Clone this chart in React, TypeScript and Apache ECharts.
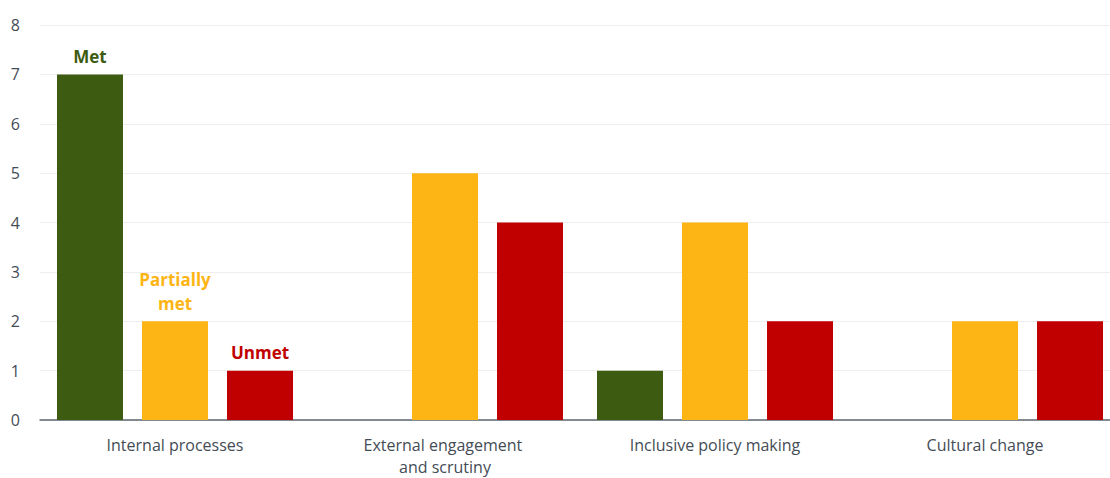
import React, { useEffect, useRef } from "react";
import * as echarts from "echarts";

const categories = ["Internal processes", "External engagement and scrutiny", "Inclusive policy making", "Cultural change"];
const seriesNames = ["Met", "Partially\nmet", "Unmet"];
const metValues = [7, null, 1, null];
const partialValues = [2, 5, 4, 2];
const unmetValues = [1, 4, 2, 2];
const colors = ["#3d5c11", "#fdb515", "#c00000"];
const yTicks = [0, 1, 2, 3, 4, 5, 6, 7, 8];

export default function App() {
  const ref = useRef<HTMLDivElement>(null);
  useEffect(() => {
    if (!ref.current) return;
    const chart = echarts.init(ref.current, undefined, { renderer: "svg" });
    const font = "'Open Sans', sans-serif";
    const all = [metValues, partialValues, unmetValues];
    const series = all.map((vals, si) => ({
      type: "bar",
      name: seriesNames[si].replace("\n", " "),
      barWidth: 66,
      barGap: "28.8%",
      itemStyle: { color: colors[si] },
      data: vals.map((v, i) =>
        i === 0
          ? {
              value: v,
              label: {
                show: true,
                position: "top",
                distance: 6,
                formatter: seriesNames[si],
                color: colors[si],
                fontWeight: "bold",
                fontSize: 17,
                fontFamily: font,
                lineHeight: 24,
              },
            }
          : { value: v }
      ),
    }));
    chart.setOption({
      animation: false,
      grid: { left: 40, right: 0, top: 25, bottom: 55 },
      xAxis: {
        type: "category",
        data: categories,
        axisLine: { show: true, lineStyle: { color: "#5c6670", width: 1.5 } },
        axisTick: { show: false },
        axisLabel: {
          color: "#444c55",
          fontSize: 16,
          fontFamily: font,
          margin: 14,
          lineHeight: 22,
          width: 180,
          overflow: "break",
          interval: 0,
        },
      },
      yAxis: {
        type: "value",
        min: yTicks[0],
        max: yTicks[yTicks.length - 1],
        interval: 1,
        axisLine: { show: false },
        axisTick: { show: false },
        splitLine: { lineStyle: { color: "#eeeeee", width: 1 } },
        axisLabel: {
          color: "#444c55",
          fontSize: 16,
          fontFamily: font,
          margin: 20,
        },
      },
      series,
    });
    return () => chart.dispose();
  }, []);
  return (
    <div style={{ position: "absolute", left: 0, top: 0, width: 1110, height: 478, overflow: "hidden" }}>
      <div ref={ref} style={{ width: 1120, height: 478 }} />
    </div>
  );
}
